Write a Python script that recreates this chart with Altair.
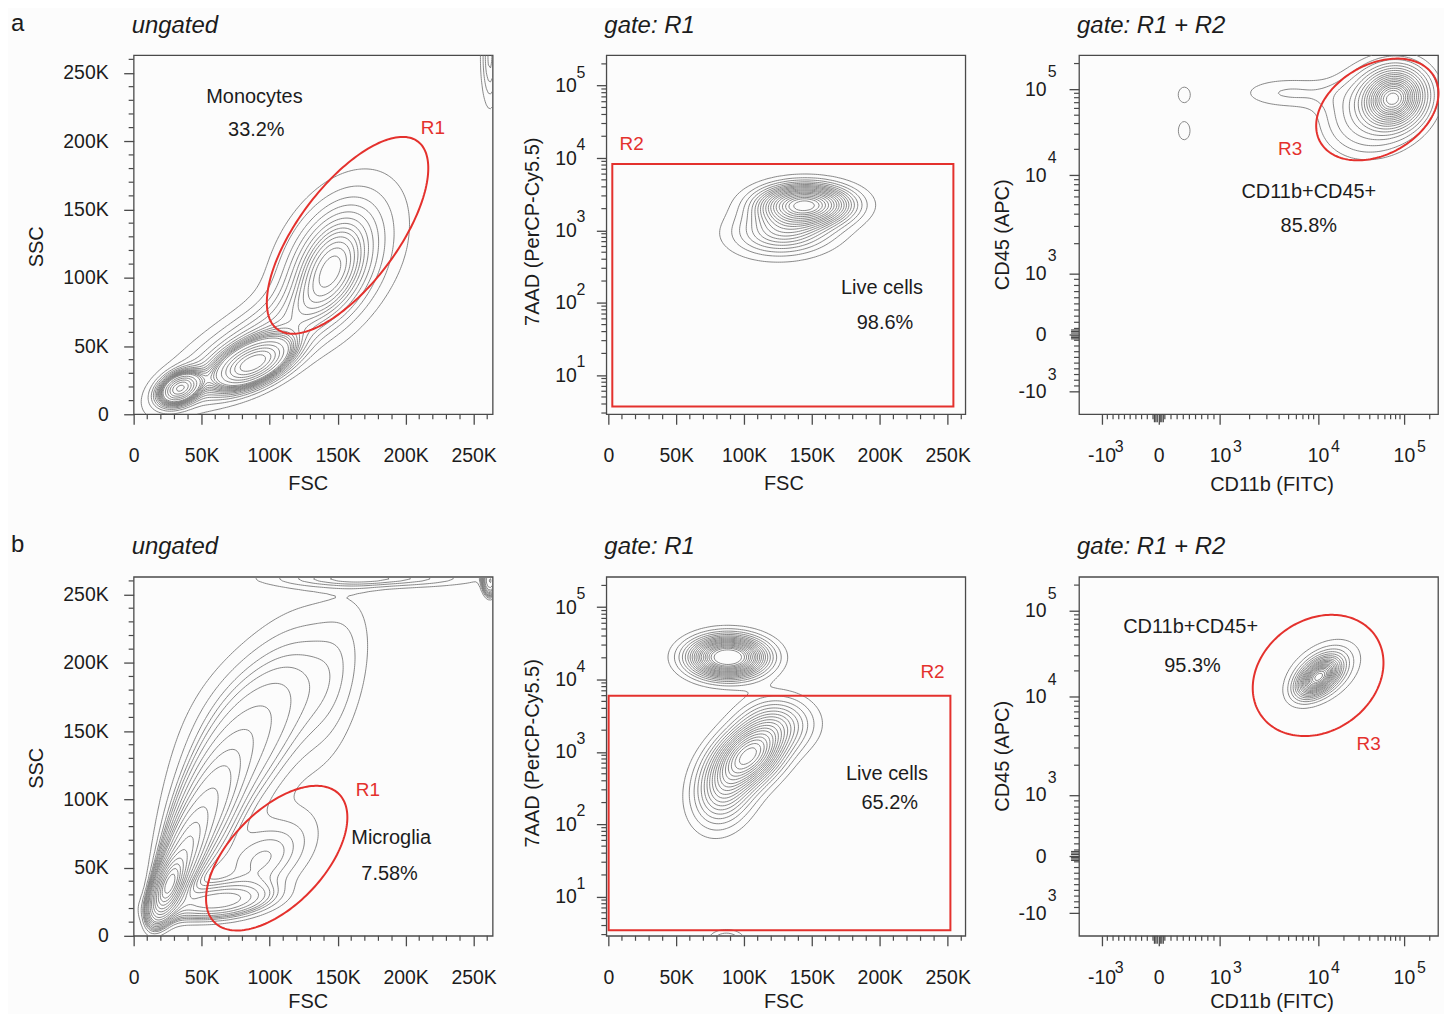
import numpy as np
import pandas as pd
import altair as alt

alt.data_transformers.disable_max_rows()

W, H = 360, 360
FONT = "Liberation Sans"
INK = "#1c1c1c"
FRAME = "#4a4a4a"
RED = "#e4312d"
LINE = "#7a7a7a"
BG = "#fcfcfc"

# equal-probability contour levels (5 % steps)
LEVEL_FRACTIONS = [0.05, 0.10, 0.15, 0.20, 0.25, 0.30, 0.35, 0.40, 0.45, 0.50,
                   0.55, 0.60, 0.65, 0.70, 0.75, 0.80, 0.85, 0.90, 0.95]

# ---------------- axes ----------------
LIN_MAJOR = [0, 50000, 100000, 150000, 200000, 250000]
LIN_MINOR = [10000, 20000, 30000, 40000, 60000, 70000, 80000, 90000,
             110000, 120000, 130000, 140000, 160000, 170000, 180000, 190000,
             210000, 220000, 230000, 240000, 260000]
LOG_MAJOR = [1, 2, 3, 4, 5]
LOG_MINOR_FACTORS = [2, 3, 4, 5, 6, 7, 8, 9]
BIEX_VALUES = [-1000, 0, 1000, 10000, 100000]
BIEX_CHANNELS = [63, 222, 393, 666, 905]
BIEX_MINOR = [-900, -800, -700, -600, -500, -400, -300, -200, -100,
              100, 200, 300, 400, 500, 600, 700, 800, 900,
              2000, 3000, 4000, 5000, 6000, 7000, 8000, 9000,
              20000, 30000, 40000, 50000, 60000, 70000, 80000, 90000, 200000]
BIEX_NEAR_ZERO = [-75, -50, -25, 25, 50, 75]

SCATTER_X = [0, 264000]
SCATTER_Y = [0, 263000]
FSC_GATED = [-1500, 263000]
LOG_DOMAIN = [0.46, 5.42]
CHANNEL_DOMAIN = [0, 1000]


def biex(v):
    v = np.asarray(v, dtype=float)
    c = BIEX_CHANNELS
    neg = c[1] + v * (c[1] - c[0]) / 1000.0
    low = c[1] + v * (c[2] - c[1]) / 1000.0
    lg = np.log10(np.maximum(v, 1000.0))
    high = np.interp(lg, [3, 4, 5], [c[2], c[3], c[4]]) + np.maximum(lg - 5, 0) * (c[4] - c[3])
    return np.where(v < 0, neg, np.where(v <= 1000, low, high))


def to_disp(kind, v):
    v = np.asarray(v, dtype=float)
    if kind == "log":
        return np.log10(v)
    if kind == "biex":
        return biex(v)
    return v


# ---------------- populations (centre x, centre y, sd x, sd y, rho, mass) ----------------
# centres in measured units, spreads in displayed units
POP_A1 = [
    (145000, 108000, 21000, 28000, 0.40, 0.28),
    (88000, 37000, 17000, 11000, 0.55, 0.25),
    (34000, 19000, 9000, 7000, 0.35, 0.09),
    (85000, 50000, 40000, 28000, 0.80, 0.20),
    (155000, 122000, 34000, 38000, 0.40, 0.12),
    (262000, 262000, 4000, 22000, 0.0, 0.02),
]
POP_A2 = [
    (145000, 2300, 21000, 0.17, 0.0, 0.65),
    (130000, 1000, 24000, 0.22, 0.1, 0.35),
]
POP_A3 = [
    (74900, 78600, 45, 42, 0.1, 0.55),
    (50900, 61800, 85, 75, 0.2, 0.37),
    (5000, 90800, 100, 32, 0.0, 0.05),
]
ISL_A3 = [(415, 86500, 18, 23, 1.5), (415, 33000, 18, 28, 1.5)]

POP_B1 = [
    (26000, 37000, 6000, 11000, 0.6, 0.20),
    (35000, 55000, 10000, 20000, 0.7, 0.15),
    (50000, 85000, 17000, 30000, 0.65, 0.13),
    (72000, 122000, 30000, 38000, 0.5, 0.13),
    (92000, 165000, 35000, 35000, 0.3, 0.09),
    (125000, 205000, 30000, 35000, 0.3, 0.05),
    (95000, 55000, 26000, 22000, 0.5, 0.055),
    (60000, 25000, 25000, 8000, 0.3, 0.05),
    (150000, 180000, 18000, 50000, 0.5, 0.03),
    (175000, 262000, 55000, 5000, 0.0, 0.03),
    (262000, 260000, 3000, 6000, 0.0, 0.01),
]
POP_B2 = [
    (88000, 20400, 18000, 0.18, 0.0, 0.35),
    (105000, 933, 16000, 0.28, 0.3, 0.33),
    (85000, 316, 15000, 0.35, 0.2, 0.20),
    (125000, 2500, 18000, 0.25, 0.0, 0.12),
]
ISL_B2 = [(87000, 2.5, 9000, 0.10, 3.0)]
POP_B3 = [
    (10000, 16800, 33, 30, 0.5, 0.6),
    (11400, 19400, 52, 45, 0.4, 0.4),
]

# ---------------- gates ----------------
GATE_A1 = ("ellipse", 157300, 131100, 86000, 36400, 53)
GATE_A2 = ("rect", 2900, 254200, 3.7, 8300)
GATE_A3 = ("ellipse", 49000, 58300, 183, 125, 30)
GATE_B1 = ("ellipse", 105200, 56900, 65600, 34700, 46)
GATE_B2 = ("rect", 200, 252000, 3.45, 6000)
GATE_B3 = ("ellipse", 10000, 17700, 194, 155, 35)

# ---------------- annotations (x, y, text, red?) ----------------
ANN_A1 = [(88800, 232400, "Monocytes", False), (90200, 208400, "33.2%", False),
          (220000, 209800, "R1", True)]
ANN_A2 = [(17100, 15500, "R2", True), (201600, 159, "Live cells", False),
          (203800, 52, "98.6%", False)]
ANN_A3 = [(5180, 20200, "R3", True), (8040, 6790, "CD11b+CD45+", False),
          (8040, 3000, "85.8%", False)]
ANN_B1 = [(172300, 106800, "R1", True), (189400, 71600, "Microglia", False),
          (188200, 45400, "7.58%", False)]
ANN_B2 = [(238800, 12900, "R2", True), (205300, 490, "Live cells", False),
          (207300, 195, "65.2%", False)]
ANN_B3 = [(38900, 3310, "R3", True), (520, 64500, "CD11b+CD45+", False),
          (550, 22900, "95.3%", False)]


def contour_lines(xs, ys, Z, levels):
    rows = []
    cid = 0
    for L in levels:
        B = Z > L
        hz = B[:, :-1] != B[:, 1:]
        vz = B[:-1, :] != B[1:, :]
        with np.errstate(divide="ignore", invalid="ignore"):
            th = (L - Z[:, :-1]) / (Z[:, 1:] - Z[:, :-1])
            tv = (L - Z[:-1, :]) / (Z[1:, :] - Z[:-1, :])
        hx = xs[:-1][None, :] + th * (xs[1:] - xs[:-1])[None, :]
        vy = ys[:-1][:, None] + tv * (ys[1:] - ys[:-1])[:, None]
        a = B[:-1, :-1]; b = B[:-1, 1:]; c = B[1:, 1:]; d = B[1:, :-1]
        case = a * 1 + b * 2 + c * 4 + d * 8
        jj, ii = np.nonzero((case != 0) & (case != 15))
        adj = {}

        def link(p, q):
            adj.setdefault(p, []).append(q)
            adj.setdefault(q, []).append(p)

        for j, i in zip(jj.tolist(), ii.tolist()):
            bot = (0, j, i); top = (0, j + 1, i); left = (1, j, i); right = (1, j, i + 1)
            e = []
            if hz[j, i]: e.append(bot)
            if vz[j, i + 1]: e.append(right)
            if hz[j + 1, i]: e.append(top)
            if vz[j, i]: e.append(left)
            if len(e) == 2:
                link(e[0], e[1])
            elif len(e) == 4:
                cen = (Z[j, i] + Z[j, i + 1] + Z[j + 1, i + 1] + Z[j + 1, i]) / 4 > L
                if (case[j, i] == 5) == cen:
                    link(bot, right); link(top, left)
                else:
                    link(left, bot); link(right, top)

        def pt(n):
            k, j, i = n
            if k == 0:
                return hx[j, i], ys[j]
            return xs[i], vy[j, i]

        seen = set()
        starts = [n for n, nb in adj.items() if len(nb) == 1] + list(adj.keys())
        for s in starts:
            if s in seen:
                continue
            path = [s]; seen.add(s); cur = s
            while True:
                nxt = [n for n in adj[cur] if n not in seen]
                if not nxt:
                    if len(path) > 2 and s in adj[cur]:
                        path.append(s)
                    break
                cur = nxt[0]; seen.add(cur); path.append(cur)
            if len(path) < 2:
                continue
            for k, n in enumerate(path):
                x, y = pt(n)
                rows.append((cid, k, float(x), float(y)))
            cid += 1
    return pd.DataFrame(rows, columns=["id", "k", "x", "y"])


def density_contours(xdom, ydom, xkind, ykind, pops, islands=()):
    N = 171
    xs = np.linspace(xdom[0], xdom[1], N)
    ys = np.linspace(ydom[0], ydom[1], N)
    X, Y = np.meshgrid(xs, ys)
    Z = np.zeros_like(X)
    for cx, cy, sx, sy, rho, m in pops:
        mx = float(to_disp(xkind, cx)); my = float(to_disp(ykind, cy))
        dx = (X - mx) / sx; dy = (Y - my) / sy
        q = (dx * dx - 2 * rho * dx * dy + dy * dy) / (1 - rho * rho)
        Z += m / (2 * np.pi * sx * sy * np.sqrt(1 - rho * rho)) * np.exp(-0.5 * q)
    z = np.sort(Z.ravel())[::-1]
    cs = np.cumsum(z); cs /= cs[-1]
    levels = [z[min(np.searchsorted(cs, f), len(z) - 1)] for f in LEVEL_FRACTIONS]
    for cx, cy, sx, sy, rel in islands:
        mx = float(to_disp(xkind, cx)); my = float(to_disp(ykind, cy))
        dx = (X - mx) / sx; dy = (Y - my) / sy
        Z += rel * levels[-1] * np.exp(-0.5 * (dx * dx + dy * dy))
    return contour_lines(xs, ys, Z, levels)


def axis_info(kind, dom):
    if kind == "lin":
        minor = [v for v in LIN_MINOR if dom[0] <= v <= dom[1]]
        expr = "datum.value == 0 ? '0' : (datum.value / 1000) + 'K'"
        return LIN_MAJOR, expr, minor, [], []
    if kind == "log":
        minor = []
        for dd in range(0, 6):
            for f in LOG_MINOR_FACTORS:
                lv = float(np.log10(f * 10 ** dd))
                if dom[0] <= lv <= dom[1]:
                    minor.append(lv)
        sup = [(d, str(d)) for d in LOG_MAJOR]
        return LOG_MAJOR, "'10'", minor, [], sup
    major = [float(v) for v in biex(BIEX_VALUES)]
    minor = [float(v) for v in biex(BIEX_MINOR) if dom[0] <= v <= dom[1]]
    near = [float(v) for v in biex(BIEX_NEAR_ZERO)]
    expr = "datum.value < 150 ? '-10' : (datum.value < 300 ? '0' : '10')"
    sup = [(major[0], "3"), (major[2], "3"), (major[3], "4"), (major[4], "5")]
    return major, expr, minor, near, sup


def ellipse_df(cx, cy, a, b, th):
    t = np.linspace(0, 2 * np.pi, 181)
    r = np.deg2rad(th)
    x = cx + a * np.cos(t) * np.cos(r) - b * np.sin(t) * np.sin(r)
    y = cy + a * np.cos(t) * np.sin(r) + b * np.sin(t) * np.cos(r)
    return pd.DataFrame({"k": np.arange(len(t)), "x": x, "y": y})


def txt(text, x, y, size=20, angle=0, italic=False, align="center", baseline="middle"):
    kw = dict(font=FONT, fontSize=size, color=INK, align=align, baseline=baseline)
    if angle:
        kw["angle"] = angle
    if italic:
        kw["fontStyle"] = "italic"
    return alt.Chart(pd.DataFrame({"t": [text]})).mark_text(**kw).encode(
        x=alt.value(x), y=alt.value(y), text="t:N")


def build_panel(p):
    xk, yk = p["xk"], p["yk"]
    xdom, ydom = p["xdom"], p["ydom"]
    xmaj, xexpr, xmin, xnear, xsup = axis_info(xk, xdom)
    ymaj, yexpr, ymin, ynear, ysup = axis_info(yk, ydom)
    ypad = {"lin": 15.5, "log": 20, "biex": 23}[yk]
    ytitle_dy = {"lin": 12, "log": -3, "biex": 0}[yk]
    xscale = alt.Scale(domain=xdom, nice=False, zero=False)
    yscale = alt.Scale(domain=ydom, nice=False, zero=False)
    xaxis = alt.Axis(values=xmaj, labelExpr=xexpr, labelPadding=22.5)
    yaxis = alt.Axis(values=ymaj, labelExpr=yexpr, labelPadding=ypad)

    def X(f):
        return alt.X(f"{f}:Q", scale=xscale, axis=xaxis, title=None)

    def Y(f):
        return alt.Y(f"{f}:Q", scale=yscale, axis=yaxis, title=None)

    layers = []
    cdf = density_contours(xdom, ydom, xk, yk, p["pops"], p.get("isl", ()))
    cdf["x"] = cdf["x"].round(3); cdf["y"] = cdf["y"].round(4)
    layers.append(alt.Chart(cdf).mark_line(color=LINE, strokeWidth=0.9, clip=True).encode(
        x=X("x"), y=Y("y"), detail="id:N", order="k:Q"))

    g = p["gate"]
    if g[0] == "ellipse":
        _, cx, cy, a, b, th = g
        gdf = ellipse_df(float(to_disp(xk, cx)), float(to_disp(yk, cy)), a, b, th)
        layers.append(alt.Chart(gdf).mark_line(color=RED, strokeWidth=2).encode(
            x=X("x"), y=Y("y"), order="k:Q"))
    else:
        _, x0, x1, y0, y1 = g
        gdf = pd.DataFrame({"x0": [float(to_disp(xk, x0))], "x1": [float(to_disp(xk, x1))],
                            "y0": [float(to_disp(yk, y0))], "y1": [float(to_disp(yk, y1))]})
        layers.append(alt.Chart(gdf).mark_rect(filled=False, color=RED, strokeWidth=2).encode(
            x=X("x0"), x2="x1", y=Y("y0"), y2="y1"))

    layers.append(alt.Chart(pd.DataFrame({"v": xmin})).mark_rule(color=FRAME, strokeWidth=1.2).encode(
        x=X("v"), y=alt.value(H), y2=alt.value(H + 5)))
    layers.append(alt.Chart(pd.DataFrame({"v": ymin})).mark_rule(color=FRAME, strokeWidth=1.2).encode(
        y=Y("v"), x=alt.value(0), x2=alt.value(-5)))
    if xnear:
        layers.append(alt.Chart(pd.DataFrame({"v": xnear})).mark_rule(color=FRAME, strokeWidth=1.2).encode(
            x=X("v"), y=alt.value(H), y2=alt.value(H + 8)))
    if ynear:
        layers.append(alt.Chart(pd.DataFrame({"v": ynear})).mark_rule(color=FRAME, strokeWidth=1.2).encode(
            y=Y("v"), x=alt.value(0), x2=alt.value(-8)))
    if xsup:
        sdf = pd.DataFrame({"v": [s[0] for s in xsup], "s": [s[1] for s in xsup]})
        layers.append(alt.Chart(sdf).mark_text(font=FONT, fontSize=16, color=INK, dx=17.5,
                                               align="center", baseline="middle").encode(
            x=X("v"), y=alt.value(H + 32.5), text="s:N"))
    if ysup:
        sdf = pd.DataFrame({"v": [s[0] for s in ysup], "s": [s[1] for s in ysup]})
        sx, sdy = (-25.5, -13) if yk == "log" else (-27, -17)
        layers.append(alt.Chart(sdf).mark_text(font=FONT, fontSize=16, color=INK, dy=sdy,
                                               align="center", baseline="middle").encode(
            y=Y("v"), x=alt.value(sx), text="s:N"))

    ann = p["ann"]
    adf = pd.DataFrame({"x": [float(to_disp(xk, a[0])) for a in ann],
                        "y": [float(to_disp(yk, a[1])) for a in ann],
                        "t": [a[2] for a in ann], "red": [a[3] for a in ann]})
    layers.append(alt.Chart(adf[~adf.red]).mark_text(font=FONT, fontSize=20, color=INK).encode(
        x=X("x"), y=Y("y"), text="t:N"))
    layers.append(alt.Chart(adf[adf.red]).mark_text(font=FONT, fontSize=19, color=RED).encode(
        x=X("x"), y=Y("y"), text="t:N"))

    layers.append(txt(p["title"], -2, -22.5, size=24, italic=True, align="left", baseline="alphabetic"))
    layers.append(txt(p["xt"], p["xtx"], H + p["xty"], size=20))
    layers.append(txt(p["yt"], p["ytx"], H / 2 + ytitle_dy, size=20, angle=270))
    if p.get("letter"):
        layers.append(txt(p["letter"], -123, -24.5, size=24, align="left", baseline="alphabetic"))
    return alt.layer(*layers).properties(width=W, height=H)


panels = [
    dict(xk="lin", yk="lin", xdom=SCATTER_X, ydom=SCATTER_Y, pops=POP_A1, gate=GATE_A1, ann=ANN_A1,
         title="ungated", xt="FSC", xtx=175, xty=70, yt="SSC", ytx=-96.6, letter="a"),
    dict(xk="lin", yk="log", xdom=FSC_GATED, ydom=LOG_DOMAIN, pops=POP_A2, gate=GATE_A2, ann=ANN_A2,
         title="gate: R1", xt="FSC", xtx=178, xty=70, yt="7AAD (PerCP-Cy5.5)", ytx=-74),
    dict(xk="biex", yk="biex", xdom=CHANNEL_DOMAIN, ydom=CHANNEL_DOMAIN, pops=POP_A3, isl=ISL_A3,
         gate=GATE_A3, ann=ANN_A3, title="gate: R1 + R2", xt="CD11b (FITC)", xtx=193.5, xty=71,
         yt="CD45 (APC)", ytx=-76.6),
    dict(xk="lin", yk="lin", xdom=SCATTER_X, ydom=SCATTER_Y, pops=POP_B1, gate=GATE_B1, ann=ANN_B1,
         title="ungated", xt="FSC", xtx=175, xty=66, yt="SSC", ytx=-96.6, letter="b"),
    dict(xk="lin", yk="log", xdom=FSC_GATED, ydom=LOG_DOMAIN, pops=POP_B2, isl=ISL_B2, gate=GATE_B2,
         ann=ANN_B2, title="gate: R1", xt="FSC", xtx=178, xty=66, yt="7AAD (PerCP-Cy5.5)", ytx=-74),
    dict(xk="biex", yk="biex", xdom=CHANNEL_DOMAIN, ydom=CHANNEL_DOMAIN, pops=POP_B3, gate=GATE_B3,
         ann=ANN_B3, title="gate: R1 + R2", xt="CD11b (FITC)", xtx=193.5, xty=66,
         yt="CD45 (APC)", ytx=-76.6),
]

charts = [build_panel(p) for p in panels]

chart = alt.concat(
    *charts, columns=3, spacing={"row": 163, "column": 114}, bounds="flush"
).properties(
    padding={"left": 2, "top": 1, "right": 0, "bottom": 0}
).configure(
    background=BG
).configure_view(
    stroke=FRAME, strokeWidth=1.3
).configure_axis(
    domain=False, grid=False, ticks=True, tickSize=10, tickWidth=1.3, tickColor=FRAME,
    labelFont=FONT, labelFontSize=19.5, labelColor=INK, labelFlush=False, labelOverlap=False
)

chart.save("out.html", embed_options={"renderer": "svg", "actions": False})
